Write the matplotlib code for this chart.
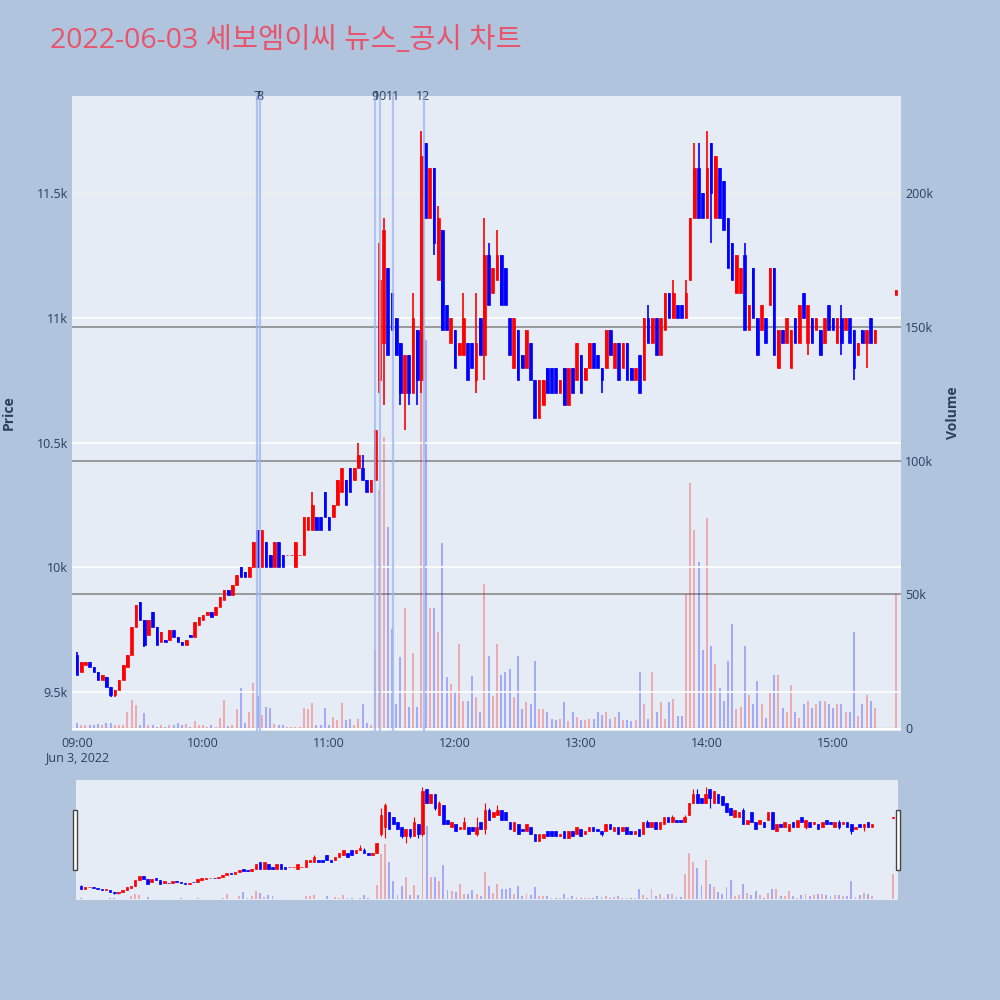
import numpy as np
import matplotlib
matplotlib.use('Agg')
import matplotlib.pyplot as plt
import matplotlib.transforms as mtransforms
from matplotlib.patches import Rectangle

plt.rcParams['font.family'] = ['Open Sans', 'Noto Sans CJK KR', 'DejaVu Sans']

TITLE = '2022-06-03 세보엠이씨 뉴스_공시 차트'

# minutes after 09:00 (2-minute bars) plus the 15:30 closing auction
MINUTES = list(range(0, 382, 2)) + [390]

OPEN = [
    9650, 9580, 9610, 9620, 9600, 9580, 9550, 9560, 9520, 9490,
    9510, 9550, 9600, 9650, 9760, 9860, 9790, 9730, 9820, 9760,
    9700, 9710, 9710, 9750, 9720, 9700, 9690, 9730, 9720, 9770,
    9790, 9810, 9820, 9810, 9840, 9870, 9910, 9890, 9930, 10000,
    9980, 9960, 10000, 10150, 10000, 10100, 10050, 10000, 10100, 10050,
    10050, 10050, 10000, 10050, 10050, 10150, 10150, 10200, 10200, 10300,
    10200, 10200, 10250, 10300, 10350, 10400, 10350, 10400, 10400, 10350,
    10300, 10350, 10750, 10900, 11200, 11100, 11000, 10900, 10700, 10850,
    10700, 10950, 10750, 11700, 11400, 11600, 11150, 11350, 11050, 10900,
    10950, 10850, 10850, 10900, 10900, 10750, 11000, 10850, 11250, 11100,
    11150, 11250, 11200, 11000, 10800, 10950, 10850, 10800, 10900, 10750,
    10600, 10650, 10800, 10800, 10800, 10700, 10800, 10650, 10800, 10750,
    10850, 10750, 10800, 10900, 10850, 10800, 10800, 10950, 10800, 10900,
    10800, 10900, 10800, 10750, 10850, 10750, 11000, 10900, 11000, 10850,
    10950, 11100, 11000, 11050, 11050, 11000, 11150, 11400, 11600, 11500,
    11400, 11700, 11400, 11600, 11550, 11400, 11300, 11100, 11100, 11250,
    10950, 11200, 11000, 10950, 11000, 11050, 11200, 10800, 10950, 10900,
    10800, 11000, 10900, 11100, 10900, 11000, 10950, 10950, 10900, 11050,
    11000, 10900, 11000, 10950, 11000, 10950, 10850, 10950, 10900, 11000,
    10900, 11090,
]

CLOSE = [
    9570, 9620, 9620, 9600, 9580, 9550, 9570, 9520, 9490, 9510,
    9550, 9610, 9650, 9760, 9850, 9790, 9690, 9790, 9760, 9690,
    9740, 9700, 9750, 9720, 9700, 9690, 9710, 9720, 9780, 9800,
    9810, 9820, 9800, 9840, 9880, 9910, 9890, 9930, 9970, 9960,
    9960, 10000, 10100, 10000, 10150, 10000, 10000, 10100, 10000, 10000,
    10050, 10050, 10100, 10050, 10200, 10200, 10250, 10150, 10150, 10200,
    10150, 10250, 10350, 10400, 10250, 10300, 10400, 10450, 10350, 10300,
    10350, 10550, 11150, 11350, 10850, 10950, 10850, 10700, 10850, 10700,
    11000, 10750, 11650, 11400, 11600, 11300, 11400, 10950, 10950, 11000,
    10800, 10900, 11000, 10750, 10800, 10900, 10850, 11250, 11050, 11200,
    11250, 11050, 11050, 10850, 11000, 10750, 10800, 10950, 10750, 10600,
    10750, 10750, 10700, 10700, 10700, 10750, 10650, 10800, 10700, 10900,
    10700, 10800, 10900, 10800, 10800, 10750, 10950, 10850, 10900, 10750,
    10900, 10750, 10750, 10800, 10700, 11000, 10900, 11000, 10850, 11000,
    11100, 11000, 11100, 11000, 11000, 11100, 11400, 11600, 11400, 11400,
    11600, 11500, 11650, 11400, 11350, 11200, 11150, 11250, 11200, 10950,
    11050, 11000, 10850, 11050, 10900, 11200, 10850, 10950, 10900, 11000,
    10950, 10900, 11050, 11000, 11050, 10900, 11000, 10850, 11000, 10950,
    10950, 11000, 10900, 11000, 10900, 10800, 10900, 10900, 10950, 10900,
    10950, 11110,
]

# wicks that reach past the candle body (bar index -> price)
HIGH_WICK = {0: 9660, 56: 10300, 67: 10500, 68: 10450, 72: 11300, 73: 11400,
             80: 11100, 82: 11750, 86: 11450, 92: 11100, 95: 11100, 97: 11400,
             98: 11300, 100: 11350, 136: 11050, 142: 11150, 145: 11150,
             147: 11700, 148: 11700, 150: 11750, 159: 11300, 182: 11050}
LOW_WICK = {8: 9480, 9: 9480, 16: 9680, 72: 10700, 73: 10650, 77: 10650,
            78: 10550, 79: 10650, 81: 10650, 82: 10700, 85: 11250, 95: 10700,
            97: 10750, 104: 10800, 125: 10700, 151: 11300, 174: 10850,
            182: 10850, 185: 10750, 188: 10800}

# volume in thousands of shares
VOLUME_K = [
    2, 1, 1, 1, 1, 1.5, 1, 2, 2, 1,
    1, 1, 6, 10.5, 8.7, 1, 5.6, 1, 1, 0.5,
    1, 0.5, 1, 1, 2, 1, 1.5, 0.5, 2.5, 1,
    1, 0.5, 1, 0.5, 3.7, 10.5, 0.8, 1, 7, 15,
    2, 6, 16.8, 11.8, 5, 8, 7.5, 1.5, 1, 1,
    0.5, 0.5, 0.5, 0.5, 7.5, 7, 9.5, 1, 1, 7.5,
    1, 4, 3, 9.5, 3, 3.5, 1, 3.5, 9, 2,
    1, 29, 89, 109, 75, 37, 9, 26.5, 45, 8,
    28, 8, 223, 145, 45, 45, 36, 69, 19, 16.5,
    14, 31.5, 10, 10, 19.5, 11.7, 6, 54, 27, 12,
    31.5, 20, 21, 22, 11.7, 27, 7.3, 9.8, 9, 25,
    7.3, 7.3, 6, 3.4, 3, 3.4, 9.8, 2.8, 6, 4,
    3, 3, 3.4, 3.4, 6, 5, 6, 3.4, 4, 6,
    3, 3, 2.8, 3, 21, 9, 3.4, 21, 6, 9.8,
    3.4, 9.8, 11, 4.5, 4.5, 50, 91.6, 74, 62, 29,
    78.5, 30.5, 24, 15, 10.3, 25, 39, 7, 8, 30.5,
    12.5, 8.9, 17.5, 8.9, 3.7, 13, 20, 20, 7.5, 6,
    16, 6, 3.7, 8.9, 10, 7.5, 8.9, 10.3, 10.3, 8.9,
    7.5, 8.9, 8.9, 6, 6, 36, 4.5, 8.9, 12.5, 10.3,
    7.5, 50,
]

NEWS_MINUTES = [85.5, 87, 142, 144.5, 150.5, 165]
NEWS_LABELS = ['7', '8', '9', '10', '11', '12']

TIME_TICKS = [0, 60, 120, 180, 240, 300, 360]
TIME_LABELS = ['09:00\nJun 3, 2022', '10:00', '11:00', '12:00', '13:00', '14:00', '15:00']
PRICE_TICKS = [9500, 10000, 10500, 11000, 11500]
PRICE_LABELS = ['9.5k', '10k', '10.5k', '11k', '11.5k']
VOLUME_TICKS = [0, 50, 100, 150, 200]
VOLUME_LABELS = ['0', '50k', '100k', '150k', '200k']

UP = '#FF0000'
DOWN = '#0000FF'
FONT_COLOR = '#2a3f5f'
PLOT_BG = '#E5ECF6'
XLIM = (-2.4, 392.4)
PRICE_LIM = (9344, 11889)
VOLUME_LIM = (-1.1, 236.3)


def candle_arrays():
    o = np.array(OPEN, dtype=float)
    c = np.array(CLOSE, dtype=float)
    hi = np.maximum(o, c)
    lo = np.minimum(o, c)
    for i, v in HIGH_WICK.items():
        hi[i] = v
    for i, v in LOW_WICK.items():
        lo[i] = v
    colors = np.where(c >= o, UP, DOWN)
    return o, c, hi, lo, colors


def draw_chart(ax_vol, ax_price, body_w, wick_lw, edge_lw, vol_w):
    t = np.array(MINUTES, dtype=float)
    o, c, hi, lo, colors = candle_arrays()
    ax_vol.bar(t, VOLUME_K, width=vol_w, color=colors, alpha=0.28, zorder=2)
    ax_price.vlines(t, lo, hi, colors=colors, lw=wick_lw, zorder=3)
    ax_price.bar(t, c - o, bottom=o, width=body_w, color=colors,
                 edgecolor=colors, linewidth=edge_lw, zorder=3)
    ax_vol.set_xlim(*XLIM)
    ax_vol.set_ylim(*VOLUME_LIM)
    ax_price.set_ylim(*PRICE_LIM)


fig = plt.figure(figsize=(10, 10), dpi=100, facecolor='#B0C4DE')

# main chart: volume axes underneath, price axes on top
ax_v = fig.add_axes([0.072, 0.269, 0.829, 0.635])
ax_v.set_facecolor(PLOT_BG)
ax_p = ax_v.twinx()
draw_chart(ax_v, ax_p, body_w=1.25, wick_lw=1.2, edge_lw=0.5, vol_w=0.9)

ax_v.yaxis.tick_right()
ax_p.yaxis.tick_left()
ax_v.set_yticks(VOLUME_TICKS, VOLUME_LABELS)
ax_p.set_yticks(PRICE_TICKS, PRICE_LABELS)
ax_v.set_xticks(TIME_TICKS, TIME_LABELS)
ax_v.grid(axis='y', color='#8a8a8a', lw=1.2)
ax_v.set_axisbelow(True)
ax_p.grid(axis='y', color='white', lw=1.2)
ax_p.set_axisbelow(True)
ax_v.axhline(0, color='white', lw=1.8, zorder=1)
for a in (ax_v, ax_p):
    for s in a.spines.values():
        s.set_visible(False)
    a.tick_params(length=0, labelsize=9, labelcolor=FONT_COLOR, pad=3)
ax_v.tick_params(axis='x', pad=4)

# news / disclosure markers
top = mtransforms.blended_transform_factory(ax_p.transData, ax_p.transAxes)
for m, lab in zip(NEWS_MINUTES, NEWS_LABELS):
    ax_p.axvline(m, color='#9fb5ef', lw=1.6, alpha=0.75, zorder=4)
    ax_p.text(m, 1.0, lab, transform=top, ha='center', va='center',
              fontsize=9, color=FONT_COLOR, clip_on=False)

fig.text(0.05, 0.959, TITLE, fontsize=20.5, color='#E8546B', ha='left', va='center')
fig.text(0.009, 0.587, 'Price', rotation=90, ha='center', va='center',
         fontsize=10, fontweight='bold', color=FONT_COLOR)
fig.text(0.953, 0.587, 'Volume', rotation=90, ha='center', va='center',
         fontsize=10, fontweight='bold', color=FONT_COLOR)

# range slider
ax_s = fig.add_axes([0.076, 0.1, 0.822, 0.12])
ax_s.set_facecolor(PLOT_BG)
ax_s2 = ax_s.twinx()
draw_chart(ax_s, ax_s2, body_w=1.25, wick_lw=0.8, edge_lw=0.5, vol_w=0.9)
for a in (ax_s, ax_s2):
    a.set_xticks([])
    a.set_yticks([])
    for s in a.spines.values():
        s.set_visible(False)
for hx in (0.073, 0.896):
    fig.add_artist(Rectangle((hx, 0.13), 0.004, 0.06, transform=fig.transFigure,
                             facecolor='white', edgecolor='#444444', lw=1))

fig.savefig('out.png', dpi=100, facecolor=fig.get_facecolor())
